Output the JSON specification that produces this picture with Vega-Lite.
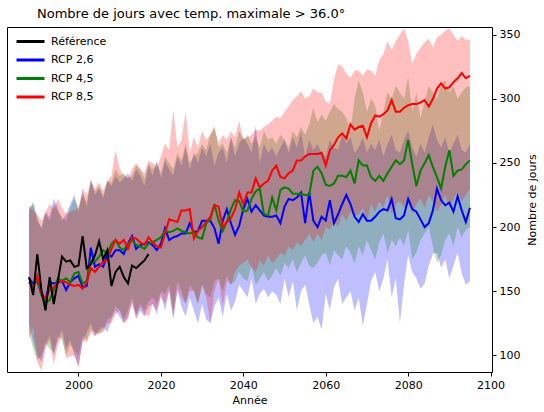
{
  "$schema": "https://vega.github.io/schema/vega-lite/v6.json",
  "width": 485,
  "height": 345,
  "autosize": {"type": "none"},
  "padding": {"left": 7, "top": 27, "right": 52, "bottom": 40},
  "background": "white",
  "title": {"text": "Nombre de jours avec temp. maximale > 36.0°", "anchor": "start", "dx": 30, "fontSize": 13, "fontWeight": "normal", "font": "DejaVu Sans", "color": "#000", "offset": 6},
  "config": {
    "font": "DejaVu Sans",
    "view": {"stroke": "#000", "strokeWidth": 1},
    "axis": {"labelFontSize": 11, "titleFontSize": 11, "titleFontWeight": "normal", "labelColor": "#000", "titleColor": "#000", "tickColor": "#000", "domain": false, "grid": false, "tickSize": 4, "labelFont": "DejaVu Sans", "titleFont": "DejaVu Sans"}
  },
  "data": {"values": [
{"year":1988,"b":160,"blo":125,"bhi":215,"g":157,"glo":118,"ghi":212,"r":157,"rlo":112,"rhi":216,"ref":161},
{"year":1989,"b":156,"blo":110,"bhi":218,"g":153,"glo":105,"ghi":220,"r":154,"rlo":122,"rhi":213,"ref":147},
{"year":1990,"b":158,"blo":100,"bhi":205,"g":160,"glo":96,"ghi":208,"r":162,"rlo":95,"rhi":210,"ref":179},
{"year":1991,"b":148,"blo":95,"bhi":200,"g":147,"glo":100,"ghi":198,"r":149,"rlo":88,"rhi":205,"ref":151},
{"year":1992,"b":143,"blo":108,"bhi":212,"g":141,"glo":110,"ghi":210,"r":144,"rlo":105,"rhi":212,"ref":135},
{"year":1993,"b":157,"blo":115,"bhi":208,"g":143,"glo":105,"ghi":205,"r":151,"rlo":112,"rhi":218,"ref":161},
{"year":1994,"b":156,"blo":100,"bhi":222,"g":151,"glo":102,"ghi":218,"r":153,"rlo":93,"rhi":214,"ref":140},
{"year":1995,"b":157,"blo":112,"bhi":215,"g":160,"glo":115,"ghi":212,"r":156,"rlo":108,"rhi":222,"ref":158},
{"year":1996,"b":158,"blo":120,"bhi":205,"g":158,"glo":112,"ghi":208,"r":158,"rlo":115,"rhi":215,"ref":177},
{"year":1997,"b":151,"blo":105,"bhi":210,"g":160,"glo":100,"ghi":205,"r":157,"rlo":98,"rhi":210,"ref":173},
{"year":1998,"b":157,"blo":112,"bhi":218,"g":157,"glo":108,"ghi":215,"r":155,"rlo":99,"rhi":212,"ref":174},
{"year":1999,"b":160,"blo":100,"bhi":225,"g":164,"glo":104,"ghi":222,"r":154,"rlo":100,"rhi":213,"ref":169},
{"year":2000,"b":162,"blo":92,"bhi":212,"g":165,"glo":100,"ghi":215,"r":155,"rlo":90,"rhi":215,"ref":170},
{"year":2001,"b":153,"blo":110,"bhi":228,"g":156,"glo":115,"ghi":225,"r":152,"rlo":112,"rhi":230,"ref":193},
{"year":2002,"b":154,"blo":118,"bhi":215,"g":158,"glo":112,"ghi":220,"r":157,"rlo":110,"rhi":225,"ref":168},
{"year":2003,"b":184,"blo":125,"bhi":238,"g":174,"glo":120,"ghi":235,"r":168,"rlo":118,"rhi":236,"ref":171},
{"year":2004,"b":169,"blo":115,"bhi":225,"g":173,"glo":118,"ghi":228,"r":165,"rlo":115,"rhi":230,"ref":178},
{"year":2005,"b":171,"blo":120,"bhi":230,"g":177,"glo":117,"ghi":232,"r":169,"rlo":117,"rhi":235,"ref":189},
{"year":2006,"b":169,"blo":122,"bhi":222,"g":182,"glo":120,"ghi":225,"r":173,"rlo":118,"rhi":228,"ref":175},
{"year":2007,"b":179,"blo":118,"bhi":236,"g":179,"glo":128,"ghi":236,"r":174,"rlo":125,"rhi":236,"ref":182},
{"year":2008,"b":177,"blo":128,"bhi":232,"g":187,"glo":130,"ghi":235,"r":183,"rlo":125,"rhi":240,"ref":154},
{"year":2009,"b":182,"blo":135,"bhi":240,"g":190,"glo":138,"ghi":245,"r":190,"rlo":132,"rhi":260,"ref":165},
{"year":2010,"b":182,"blo":130,"bhi":235,"g":184,"glo":135,"ghi":240,"r":187,"rlo":135,"rhi":245,"ref":169},
{"year":2011,"b":179,"blo":125,"bhi":238,"g":182,"glo":128,"ghi":242,"r":190,"rlo":125,"rhi":240,"ref":161},
{"year":2012,"b":187,"blo":130,"bhi":242,"g":187,"glo":135,"ghi":238,"r":183,"rlo":128,"rhi":238,"ref":156},
{"year":2013,"b":193,"blo":142,"bhi":236,"g":190,"glo":145,"ghi":240,"r":192,"rlo":140,"rhi":245,"ref":170},
{"year":2014,"b":183,"blo":128,"bhi":245,"g":186,"glo":132,"ghi":248,"r":191,"rlo":130,"rhi":250,"ref":168},
{"year":2015,"b":186,"blo":135,"bhi":240,"g":185,"glo":140,"ghi":245,"r":188,"rlo":138,"rhi":245,"ref":171},
{"year":2016,"b":187,"blo":130,"bhi":232,"g":183,"glo":135,"ghi":238,"r":186,"rlo":132,"rhi":242,"ref":174},
{"year":2017,"b":188,"blo":138,"bhi":248,"g":187,"glo":142,"ghi":250,"r":192,"rlo":130,"rhi":252,"ref":179},
{"year":2018,"b":186,"blo":140,"bhi":240,"g":188,"glo":145,"ghi":245,"r":188,"rlo":140,"rhi":250},
{"year":2019,"b":182,"blo":132,"bhi":252,"g":190,"glo":140,"ghi":250,"r":185,"rlo":135,"rhi":246},
{"year":2020,"b":187,"blo":148,"bhi":238,"g":192,"glo":150,"ghi":242,"r":184,"rlo":145,"rhi":255},
{"year":2021,"b":199,"blo":135,"bhi":252,"g":197,"glo":148,"ghi":255,"r":195,"rlo":140,"rhi":265},
{"year":2022,"b":190,"blo":150,"bhi":245,"g":196,"glo":155,"ghi":250,"r":206,"rlo":151,"rhi":260},
{"year":2023,"b":192,"blo":128,"bhi":240,"g":197,"glo":135,"ghi":245,"r":205,"rlo":130,"rhi":291},
{"year":2024,"b":193,"blo":150,"bhi":255,"g":199,"glo":158,"ghi":258,"r":204,"rlo":152,"rhi":262},
{"year":2025,"b":195,"blo":138,"bhi":248,"g":197,"glo":150,"ghi":252,"r":213,"rlo":145,"rhi":268},
{"year":2026,"b":195,"blo":130,"bhi":262,"g":196,"glo":140,"ghi":265,"r":213,"rlo":140,"rhi":290},
{"year":2027,"b":203,"blo":145,"bhi":245,"g":195,"glo":155,"ghi":250,"r":214,"rlo":150,"rhi":258},
{"year":2028,"b":196,"blo":135,"bhi":258,"g":196,"glo":150,"ghi":255,"r":191,"rlo":150,"rhi":270},
{"year":2029,"b":197,"blo":125,"bhi":250,"g":192,"glo":140,"ghi":258,"r":197,"rlo":140,"rhi":262},
{"year":2030,"b":205,"blo":140,"bhi":262,"g":191,"glo":155,"ghi":265,"r":200,"rlo":155,"rhi":275},
{"year":2031,"b":205,"blo":128,"bhi":255,"g":203,"glo":148,"ghi":260,"r":204,"rlo":145,"rhi":268},
{"year":2032,"b":205,"blo":125,"bhi":265,"g":206,"glo":145,"ghi":272,"r":208,"rlo":125,"rhi":272},
{"year":2033,"b":199,"blo":138,"bhi":248,"g":218,"glo":158,"ghi":279,"r":217,"rlo":150,"rhi":277},
{"year":2034,"b":187,"blo":145,"bhi":258,"g":205,"glo":160,"ghi":262,"r":216,"rlo":160,"rhi":265},
{"year":2035,"b":205,"blo":130,"bhi":262,"g":197,"glo":150,"ghi":265,"r":200,"rlo":138,"rhi":272},
{"year":2036,"b":214,"blo":148,"bhi":250,"g":204,"glo":162,"ghi":258,"r":204,"rlo":158,"rhi":268},
{"year":2037,"b":203,"blo":135,"bhi":270,"g":214,"glo":155,"ghi":270,"r":207,"rlo":155,"rhi":275},
{"year":2038,"b":194,"blo":142,"bhi":255,"g":221,"glo":158,"ghi":262,"r":214,"rlo":165,"rhi":270},
{"year":2039,"b":201,"blo":155,"bhi":265,"g":220,"glo":165,"ghi":275,"r":227,"rlo":170,"rhi":283},
{"year":2040,"b":214,"blo":150,"bhi":270,"g":212,"glo":160,"ghi":268,"r":218,"rlo":172,"rhi":268},
{"year":2041,"b":222,"blo":145,"bhi":265,"g":213,"glo":158,"ghi":272,"r":227,"rlo":175,"rhi":270},
{"year":2042,"b":212,"blo":160,"bhi":258,"g":222,"glo":170,"ghi":265,"r":227,"rlo":168,"rhi":272},
{"year":2043,"b":217,"blo":140,"bhi":279,"g":228,"glo":155,"ghi":270,"r":238,"rlo":165,"rhi":276},
{"year":2044,"b":213,"blo":148,"bhi":250,"g":230,"glo":160,"ghi":262,"r":231,"rlo":174,"rhi":275},
{"year":2045,"b":209,"blo":152,"bhi":265,"g":210,"glo":165,"ghi":275,"r":234,"rlo":170,"rhi":278},
{"year":2046,"b":208,"blo":145,"bhi":258,"g":209,"glo":158,"ghi":268,"r":236,"rlo":178,"rhi":280},
{"year":2047,"b":208,"blo":150,"bhi":262,"g":223,"glo":162,"ghi":270,"r":244,"rlo":172,"rhi":283},
{"year":2048,"b":209,"blo":147,"bhi":255,"g":213,"glo":168,"ghi":265,"r":248,"rlo":175,"rhi":286},
{"year":2049,"b":203,"blo":140,"bhi":262,"g":229,"glo":162,"ghi":272,"r":239,"rlo":180,"rhi":285},
{"year":2050,"b":216,"blo":160,"bhi":268,"g":231,"glo":172,"ghi":268,"r":238,"rlo":178,"rhi":290},
{"year":2051,"b":222,"blo":145,"bhi":258,"g":230,"glo":168,"ghi":262,"r":242,"rlo":185,"rhi":294},
{"year":2052,"b":221,"blo":158,"bhi":270,"g":226,"glo":175,"ghi":275,"r":244,"rlo":182,"rhi":299},
{"year":2053,"b":223,"blo":135,"bhi":262,"g":226,"glo":165,"ghi":270,"r":252,"rlo":188,"rhi":302},
{"year":2054,"b":227,"blo":150,"bhi":275,"g":226,"glo":172,"ghi":278,"r":252,"rlo":185,"rhi":306},
{"year":2055,"b":203,"blo":155,"bhi":255,"g":225,"glo":178,"ghi":272,"r":255,"rlo":190,"rhi":300},
{"year":2056,"b":227,"blo":140,"bhi":268,"g":225,"glo":170,"ghi":280,"r":257,"rlo":195,"rhi":302},
{"year":2057,"b":205,"blo":125,"bhi":260,"g":244,"glo":168,"ghi":293,"r":257,"rlo":188,"rhi":308},
{"year":2058,"b":200,"blo":130,"bhi":265,"g":247,"glo":172,"ghi":282,"r":257,"rlo":195,"rhi":305},
{"year":2059,"b":208,"blo":120,"bhi":258,"g":242,"glo":178,"ghi":288,"r":258,"rlo":190,"rhi":305},
{"year":2060,"b":205,"blo":148,"bhi":255,"g":233,"glo":180,"ghi":283,"r":248,"rlo":200,"rhi":298},
{"year":2061,"b":221,"blo":135,"bhi":268,"g":232,"glo":170,"ghi":290,"r":260,"rlo":198,"rhi":296},
{"year":2062,"b":203,"blo":153,"bhi":262,"g":234,"glo":182,"ghi":296,"r":264,"rlo":205,"rhi":315},
{"year":2063,"b":210,"blo":160,"bhi":260,"g":240,"glo":178,"ghi":292,"r":270,"rlo":200,"rhi":327},
{"year":2064,"b":218,"blo":140,"bhi":272,"g":240,"glo":175,"ghi":290,"r":273,"rlo":210,"rhi":325},
{"year":2065,"b":225,"blo":145,"bhi":265,"g":239,"glo":185,"ghi":285,"r":269,"rlo":205,"rhi":320},
{"year":2066,"b":218,"blo":150,"bhi":270,"g":244,"glo":180,"ghi":275,"r":280,"rlo":212,"rhi":316},
{"year":2067,"b":208,"blo":135,"bhi":258,"g":234,"glo":172,"ghi":300,"r":276,"rlo":208,"rhi":322},
{"year":2068,"b":204,"blo":145,"bhi":262,"g":252,"glo":185,"ghi":314,"r":278,"rlo":210,"rhi":322},
{"year":2069,"b":210,"blo":123,"bhi":270,"g":248,"glo":178,"ghi":305,"r":279,"rlo":215,"rhi":318},
{"year":2070,"b":205,"blo":140,"bhi":258,"g":248,"glo":190,"ghi":290,"r":270,"rlo":205,"rhi":323},
{"year":2071,"b":205,"blo":158,"bhi":265,"g":239,"glo":182,"ghi":300,"r":281,"rlo":218,"rhi":322},
{"year":2072,"b":208,"blo":165,"bhi":260,"g":236,"glo":175,"ghi":295,"r":287,"rlo":212,"rhi":318},
{"year":2073,"b":212,"blo":150,"bhi":268,"g":240,"glo":188,"ghi":275,"r":286,"rlo":220,"rhi":330},
{"year":2074,"b":214,"blo":160,"bhi":255,"g":236,"glo":195,"ghi":290,"r":288,"rlo":215,"rhi":335},
{"year":2075,"b":213,"blo":175,"bhi":265,"g":242,"glo":180,"ghi":305,"r":291,"rlo":225,"rhi":345},
{"year":2076,"b":222,"blo":145,"bhi":272,"g":247,"glo":190,"ghi":300,"r":299,"rlo":210,"rhi":338},
{"year":2077,"b":207,"blo":160,"bhi":260,"g":252,"glo":185,"ghi":310,"r":290,"rlo":218,"rhi":345},
{"year":2078,"b":206,"blo":125,"bhi":258,"g":249,"glo":192,"ghi":305,"r":290,"rlo":220,"rhi":350},
{"year":2079,"b":209,"blo":155,"bhi":268,"g":252,"glo":185,"ghi":300,"r":293,"rlo":215,"rhi":355},
{"year":2080,"b":222,"blo":178,"bhi":275,"g":268,"glo":198,"ghi":317,"r":295,"rlo":225,"rhi":345},
{"year":2081,"b":214,"blo":165,"bhi":262,"g":249,"glo":175,"ghi":290,"r":296,"rlo":210,"rhi":327},
{"year":2082,"b":212,"blo":160,"bhi":255,"g":232,"glo":180,"ghi":305,"r":296,"rlo":218,"rhi":335},
{"year":2083,"b":206,"blo":152,"bhi":265,"g":244,"glo":190,"ghi":285,"r":297,"rlo":222,"rhi":340},
{"year":2084,"b":200,"blo":156,"bhi":258,"g":250,"glo":195,"ghi":298,"r":299,"rlo":215,"rhi":344},
{"year":2085,"b":203,"blo":170,"bhi":270,"g":256,"glo":200,"ghi":310,"r":294,"rlo":225,"rhi":347},
{"year":2086,"b":213,"blo":179,"bhi":280,"g":247,"glo":185,"ghi":305,"r":300,"rlo":220,"rhi":340},
{"year":2087,"b":230,"blo":180,"bhi":268,"g":239,"glo":172,"ghi":300,"r":308,"rlo":212,"rhi":348},
{"year":2088,"b":221,"blo":168,"bhi":262,"g":230,"glo":178,"ghi":312,"r":312,"rlo":218,"rhi":350},
{"year":2089,"b":217,"blo":175,"bhi":270,"g":247,"glo":190,"ghi":314,"r":308,"rlo":225,"rhi":353},
{"year":2090,"b":219,"blo":160,"bhi":258,"g":260,"glo":195,"ghi":305,"r":309,"rlo":215,"rhi":355},
{"year":2091,"b":212,"blo":170,"bhi":265,"g":240,"glo":185,"ghi":310,"r":313,"rlo":222,"rhi":350},
{"year":2092,"b":224,"blo":180,"bhi":272,"g":244,"glo":200,"ghi":300,"r":316,"rlo":228,"rhi":345},
{"year":2093,"b":213,"blo":164,"bhi":260,"g":245,"glo":192,"ghi":305,"r":320,"rlo":220,"rhi":349},
{"year":2094,"b":204,"blo":155,"bhi":258,"g":249,"glo":198,"ghi":309,"r":316,"rlo":225,"rhi":346},
{"year":2095,"b":215,"blo":158,"bhi":265,"g":252,"glo":200,"ghi":310,"r":318,"rlo":230,"rhi":346}
  ]},
  "encoding": {
    "x": {"field": "year", "type": "quantitative", "scale": {"domain": [1982.65, 2100.35], "nice": false, "zero": false},
          "axis": {"values": [2000, 2020, 2040, 2060, 2080, 2100], "format": "d", "title": "Année", "labelPadding": 3, "titlePadding": 4}}
  },
  "layer": [
    {"mark": {"type": "area", "color": "#0000ff", "opacity": 0.25, "clip": true},
     "encoding": {"y": {"field": "blo", "type": "quantitative", "title": "Nombre de jours",
        "scale": {"domain": [87, 356], "nice": false, "zero": false},
        "axis": {"orient": "right", "values": [100, 150, 200, 250, 300, 350], "titleAngle": 270, "titleBaseline": "top", "labelPadding": 3, "titlePadding": 7}},
       "y2": {"field": "bhi"}}},
    {"mark": {"type": "area", "color": "#008000", "opacity": 0.25, "clip": true},
     "encoding": {"y": {"field": "glo", "type": "quantitative", "title": "Nombre de jours"}, "y2": {"field": "ghi"}}},
    {"mark": {"type": "area", "color": "#ff0000", "opacity": 0.25, "clip": true},
     "encoding": {"y": {"field": "rlo", "type": "quantitative", "title": "Nombre de jours"}, "y2": {"field": "rhi"}}},
    {"mark": {"type": "line", "strokeWidth": 2, "clip": true},
     "encoding": {"y": {"field": "b", "type": "quantitative", "title": "Nombre de jours"},
       "color": {"datum": "RCP 2,6", "type": "nominal",
         "scale": {"domain": ["Référence", "RCP 2,6", "RCP 4,5", "RCP 8,5"], "range": ["#000000", "#0000ff", "#008000", "#ff0000"]},
         "legend": {"orient": "none", "legendX": 15, "legendY": 6, "title": null, "symbolType": "M-2,0H2", "symbolSize": 196, "symbolStrokeWidth": 3, "labelFontSize": 11, "labelColor": "#000", "labelOffset": 12, "rowPadding": 3.5, "padding": 0, "labelFont": "DejaVu Sans"}}}},
    {"mark": {"type": "line", "strokeWidth": 2, "clip": true},
     "encoding": {"y": {"field": "g", "type": "quantitative", "title": "Nombre de jours"}, "color": {"datum": "RCP 4,5", "type": "nominal"}}},
    {"mark": {"type": "line", "strokeWidth": 2, "clip": true},
     "encoding": {"y": {"field": "r", "type": "quantitative", "title": "Nombre de jours"}, "color": {"datum": "RCP 8,5", "type": "nominal"}}},
    {"transform": [{"filter": "isValid(datum.ref)"}],
     "mark": {"type": "line", "strokeWidth": 2, "clip": true},
     "encoding": {"y": {"field": "ref", "type": "quantitative", "title": "Nombre de jours"}, "color": {"datum": "Référence", "type": "nominal"}}}
  ]
}
